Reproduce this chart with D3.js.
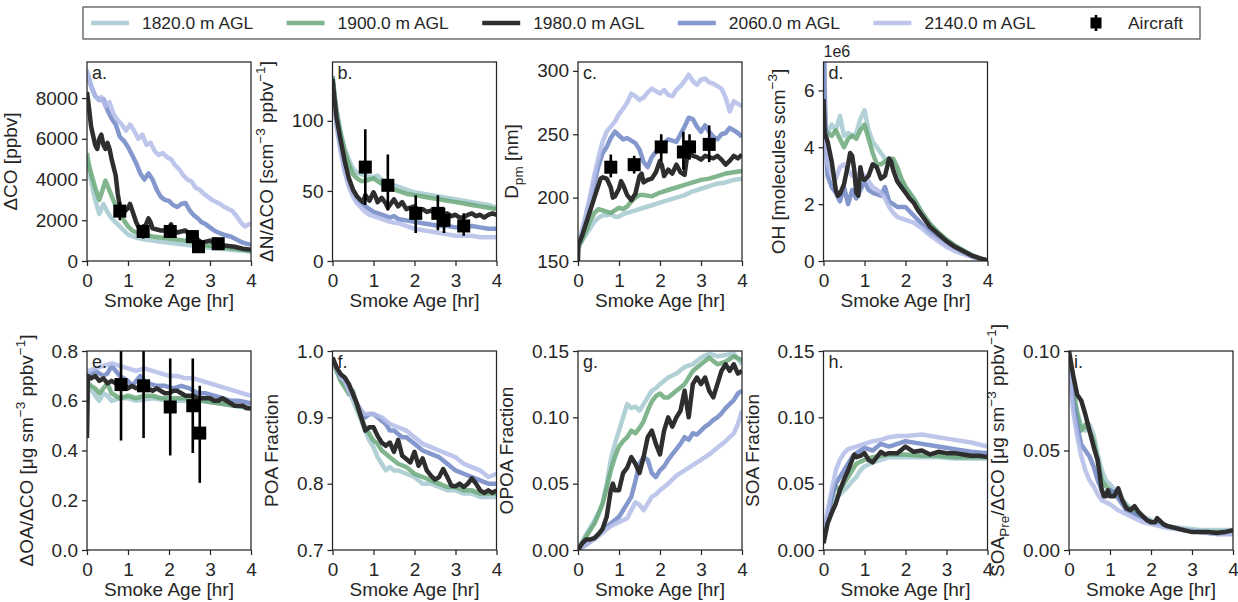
<!DOCTYPE html>
<html>
<head>
<meta charset="utf-8">
<script src="https://cdn.jsdelivr.net/npm/d3@7"></script>
<style>
  body { margin: 0; background: #fff; }
  svg { font-family: "Liberation Sans", Arial, Helvetica, sans-serif; }
</style>
</head>
<body>
<svg id="chart" width="1238" height="602"></svg>
<script>
"use strict";

// /////// DATA  (pairs are [smoke age hr, value])

const altitudes = ["1820.0 m AGL", "1900.0 m AGL", "1980.0 m AGL", "2060.0 m AGL", "2140.0 m AGL"];
const xTicks = [0, 1, 2, 3, 4];

// a. delta CO [ppbv]
const co1820 = [[0,5000],[0.1,3900],[0.2,3000],[0.3,2300],[0.4,2800],[0.5,2400],[0.6,2100],[0.7,1900],[0.8,1700],[0.9,1500],[1.0,1300],[1.2,1150],[1.4,1050],[1.6,1000],[1.8,950],[2.0,900],[2.2,850],[2.4,800],[2.6,750],[2.8,700],[3.0,650],[3.2,600],[3.4,580],[3.6,530],[3.8,500],[4.0,450]];
const co1900 = [[0,5300],[0.05,4700],[0.1,4300],[0.2,3600],[0.3,3000],[0.35,3300],[0.45,3950],[0.5,3700],[0.6,3200],[0.7,2700],[0.8,2300],[0.9,2000],[1.0,1700],[1.1,1500],[1.2,1400],[1.4,1300],[1.6,1200],[1.8,1150],[2.0,1100],[2.2,1050],[2.4,1000],[2.6,900],[2.8,800],[3.0,750],[3.2,700],[3.4,650],[3.6,600],[3.8,550],[4.0,500]];
const co1980 = [[0,8300],[0.05,7500],[0.1,6600],[0.2,5700],[0.25,5500],[0.3,6000],[0.35,6200],[0.4,5700],[0.45,5500],[0.5,5800],[0.55,5500],[0.6,5000],[0.7,4200],[0.75,3300],[0.8,2700],[0.9,2400],[1.0,2600],[1.05,2800],[1.1,2500],[1.2,1900],[1.3,1500],[1.4,1600],[1.5,2100],[1.55,1900],[1.6,1600],[1.8,1500],[1.9,1500],[2.0,1600],[2.05,1800],[2.1,1550],[2.2,1400],[2.3,1450],[2.4,1500],[2.5,1300],[2.6,1250],[2.7,1050],[2.8,900],[2.9,950],[3.0,1000],[3.2,800],[3.4,750],[3.6,700],[3.8,600],[4.0,550]];
const co2060 = [[0,9200],[0.1,8600],[0.2,8100],[0.3,7900],[0.4,7950],[0.5,7400],[0.6,7000],[0.7,6700],[0.8,6100],[0.9,5900],[1.0,5600],[1.1,5200],[1.2,4800],[1.3,4300],[1.4,4000],[1.5,4300],[1.6,4000],[1.7,3500],[1.8,3150],[1.9,3000],[2.0,2950],[2.1,2750],[2.2,2650],[2.3,2800],[2.4,2850],[2.5,2500],[2.6,2250],[2.7,2100],[2.8,1900],[2.9,1800],[3.0,1650],[3.1,1500],[3.2,1400],[3.4,1250],[3.5,1200],[3.6,1100],[3.8,900],[4.0,800]];
const co2140 = [[0,9400],[0.1,8600],[0.2,8100],[0.3,7900],[0.35,8050],[0.45,7600],[0.55,7800],[0.65,7200],[0.75,6900],[0.85,6700],[0.95,6400],[1.05,6700],[1.15,6400],[1.25,6000],[1.35,6200],[1.45,5700],[1.55,5800],[1.65,5400],[1.75,5200],[1.85,5300],[1.95,5100],[2.05,5000],[2.15,4700],[2.25,4500],[2.35,4200],[2.45,4000],[2.55,3900],[2.65,3600],[2.75,3500],[2.85,3300],[2.95,3150],[3.05,3000],[3.15,2900],[3.25,2800],[3.35,2650],[3.45,2550],[3.55,2450],[3.65,2200],[3.75,1900],[3.85,1700],[3.95,1800],[4.0,1850]];

// b. delta N / delta CO
const n1820 = [[0,132],[0.05,120],[0.1,108],[0.2,92],[0.3,80],[0.4,72],[0.5,66],[0.6,63],[0.7,62],[0.8,61],[0.9,60],[1.0,60],[1.1,61],[1.2,58],[1.3,57],[1.4,55],[1.6,53],[1.8,51],[2.0,49],[2.2,48],[2.4,47],[2.6,46],[2.8,45],[3.0,44],[3.2,43],[3.4,42],[3.6,41],[3.8,40],[4.0,38]];
const n1900 = [[0,132],[0.05,118],[0.1,106],[0.2,90],[0.3,78],[0.4,69],[0.5,62],[0.6,59],[0.7,57],[0.8,57],[0.9,58],[1.0,59],[1.1,57],[1.2,55],[1.3,53],[1.4,52],[1.6,50],[1.8,48],[2.0,47],[2.2,46],[2.4,45],[2.6,44],[2.8,43],[3.0,42],[3.2,41],[3.4,40],[3.6,39],[3.8,38],[4.0,37]];
const n1980 = [[0,130],[0.05,115],[0.1,102],[0.2,86],[0.3,71],[0.4,59],[0.5,51],[0.6,46],[0.7,43],[0.75,42],[0.8,47],[0.85,45],[0.9,43],[1.0,49],[1.05,46],[1.1,42],[1.2,45],[1.3,41],[1.35,38],[1.4,40],[1.5,44],[1.6,39],[1.7,42],[1.8,37],[1.9,38],[2.0,39],[2.1,36],[2.2,37],[2.3,35],[2.4,36],[2.5,34],[2.6,35],[2.7,33],[2.8,34],[2.9,32],[3.0,33],[3.1,31],[3.2,31],[3.3,33],[3.4,34],[3.5,32],[3.6,33],[3.7,31],[3.8,33],[3.9,34],[4.0,33]];
const n2060 = [[0,130],[0.05,113],[0.1,98],[0.2,80],[0.3,65],[0.4,55],[0.5,48],[0.6,44],[0.7,41],[0.8,39],[0.9,37],[1.0,35],[1.2,33],[1.4,31],[1.5,32],[1.6,30],[1.8,29],[2.0,28],[2.2,27],[2.4,26],[2.6,25],[2.8,25],[3.0,24],[3.2,24],[3.4,25],[3.6,24],[3.8,23],[4.0,23]];
const n2140 = [[0,130],[0.05,112],[0.1,96],[0.2,78],[0.3,63],[0.4,53],[0.5,46],[0.6,41],[0.7,38],[0.8,35],[0.9,33],[1.0,32],[1.2,30],[1.4,28],[1.6,27],[1.8,25],[2.0,23],[2.2,22],[2.4,21],[2.6,20],[2.8,19],[3.0,18],[3.2,18],[3.4,18],[3.6,17],[3.8,17],[4.0,17]];

// c. Dpm [nm]
const d1820 = [[0,160],[0.1,166],[0.2,171],[0.3,176],[0.4,181],[0.5,184],[0.6,186],[0.7,186],[0.8,187],[0.9,185],[1.0,185],[1.1,187],[1.2,188],[1.4,190],[1.6,192],[1.8,194],[2.0,196],[2.2,198],[2.4,200],[2.6,202],[2.8,205],[3.0,207],[3.2,209],[3.4,211],[3.6,212],[3.8,214],[4.0,215]];
const d1900 = [[0,160],[0.1,167],[0.2,174],[0.3,182],[0.4,188],[0.5,191],[0.6,190],[0.7,189],[0.8,188],[0.9,190],[1.0,192],[1.1,191],[1.2,193],[1.3,197],[1.4,200],[1.5,202],[1.6,202],[1.8,201],[2.0,204],[2.2,206],[2.4,208],[2.6,210],[2.8,212],[3.0,214],[3.2,215],[3.4,217],[3.6,219],[3.8,220],[4.0,221]];
const d1980 = [[0,150],[0.01,163],[0.1,170],[0.2,180],[0.3,190],[0.4,200],[0.5,210],[0.55,215],[0.6,216],[0.7,215],[0.8,208],[0.85,200],[0.9,201],[1.0,207],[1.05,213],[1.1,210],[1.2,202],[1.3,198],[1.4,203],[1.5,217],[1.55,219],[1.6,212],[1.7,214],[1.8,215],[1.9,220],[2.0,229],[2.05,225],[2.1,217],[2.2,222],[2.3,219],[2.4,226],[2.5,220],[2.6,218],[2.65,230],[2.7,236],[2.8,233],[2.9,232],[3.0,230],[3.1,233],[3.2,232],[3.3,231],[3.4,233],[3.5,230],[3.6,226],[3.7,229],[3.8,233],[3.9,231],[4.0,234]];
const d2060 = [[0,160],[0.1,172],[0.2,185],[0.3,198],[0.4,212],[0.5,225],[0.6,235],[0.7,240],[0.8,247],[0.9,252],[1.0,249],[1.1,246],[1.2,247],[1.3,245],[1.4,243],[1.5,238],[1.6,228],[1.7,224],[1.8,232],[1.9,236],[2.0,240],[2.1,243],[2.2,246],[2.3,245],[2.4,244],[2.5,250],[2.6,256],[2.7,263],[2.8,262],[2.9,256],[3.0,252],[3.1,257],[3.2,252],[3.3,248],[3.4,246],[3.5,250],[3.6,251],[3.7,255],[3.8,253],[3.9,251],[4.0,248]];
const d2140 = [[0,160],[0.1,174],[0.2,188],[0.3,202],[0.4,218],[0.5,232],[0.6,244],[0.7,252],[0.8,256],[0.9,260],[1.0,266],[1.1,270],[1.2,275],[1.3,282],[1.4,280],[1.5,277],[1.6,279],[1.7,283],[1.8,286],[1.9,284],[2.0,282],[2.1,285],[2.2,281],[2.3,280],[2.4,285],[2.5,288],[2.6,292],[2.7,297],[2.8,292],[2.9,289],[3.0,293],[3.1,294],[3.2,291],[3.3,290],[3.4,288],[3.5,286],[3.6,279],[3.7,268],[3.8,276],[3.9,274],[4.0,272]];

// d. OH [1e6 molecules scm-3]
const oh1820 = [[0,4.4],[0.1,4.5],[0.2,4.8],[0.3,4.6],[0.4,5.1],[0.5,4.4],[0.6,4.5],[0.7,4.4],[0.8,4.5],[0.9,5.0],[1.0,5.3],[1.1,4.6],[1.2,4.2],[1.3,4.0],[1.4,3.8],[1.5,3.6],[1.6,3.4],[1.7,3.4],[1.8,3.1],[1.9,2.8],[2.0,2.6],[2.2,2.2],[2.4,1.7],[2.6,1.3],[2.8,1.0],[3.0,0.75],[3.2,0.55],[3.4,0.38],[3.6,0.22],[3.8,0.1],[4.0,0.02]];
const oh1900 = [[0,4.7],[0.1,4.5],[0.2,4.4],[0.3,4.6],[0.4,4.3],[0.5,4.0],[0.6,4.3],[0.7,4.4],[0.8,4.3],[0.9,4.6],[1.0,4.8],[1.1,4.3],[1.2,3.8],[1.3,3.4],[1.4,3.4],[1.5,3.5],[1.6,3.6],[1.7,3.6],[1.8,3.3],[1.9,2.9],[2.0,2.6],[2.2,2.2],[2.4,1.7],[2.6,1.3],[2.8,1.0],[3.0,0.75],[3.2,0.55],[3.4,0.38],[3.6,0.22],[3.8,0.1],[4.0,0.02]];
const oh1980 = [[0,5.7],[0.03,4.5],[0.1,4.2],[0.2,3.5],[0.3,2.5],[0.35,2.3],[0.4,2.35],[0.5,2.7],[0.6,3.4],[0.65,3.8],[0.7,3.7],[0.75,3.2],[0.8,2.4],[0.85,2.3],[0.9,3.3],[0.95,2.9],[1.0,2.85],[1.1,3.0],[1.2,3.4],[1.3,3.3],[1.4,2.9],[1.5,3.0],[1.6,3.6],[1.65,3.5],[1.7,3.2],[1.8,2.8],[1.9,2.6],[2.0,2.4],[2.1,2.2],[2.2,2.05],[2.3,1.8],[2.4,1.6],[2.6,1.2],[2.8,0.95],[3.0,0.7],[3.2,0.5],[3.4,0.35],[3.6,0.2],[3.8,0.1],[4.0,0.02]];
const oh2060 = [[0,9.0],[0.03,6.0],[0.07,3.8],[0.1,3.0],[0.2,2.6],[0.3,2.4],[0.4,2.1],[0.5,2.6],[0.6,2.0],[0.7,2.5],[0.8,2.2],[0.9,2.5],[1.0,2.8],[1.1,2.5],[1.2,2.4],[1.3,2.35],[1.4,2.3],[1.5,2.6],[1.6,2.1],[1.7,2.0],[1.8,1.9],[1.9,1.9],[2.0,1.9],[2.1,1.75],[2.2,1.6],[2.4,1.3],[2.6,1.0],[2.8,0.8],[3.0,0.6],[3.2,0.45],[3.4,0.3],[3.6,0.18],[3.8,0.08],[4.0,0.02]];
const oh2140 = [[0,5.0],[0.05,4.0],[0.1,3.4],[0.2,3.0],[0.3,2.9],[0.4,3.3],[0.5,3.4],[0.6,3.2],[0.7,3.0],[0.8,3.0],[0.9,3.1],[1.0,3.0],[1.1,2.8],[1.2,2.6],[1.3,2.5],[1.4,2.4],[1.5,2.2],[1.6,1.9],[1.7,1.7],[1.8,1.55],[2.0,1.45],[2.2,1.35],[2.4,1.15],[2.6,0.9],[2.8,0.7],[3.0,0.5],[3.2,0.35],[3.4,0.25],[3.6,0.15],[3.8,0.07],[4.0,0.02]];

// e. delta OA / delta CO
const oa1820 = [[0,0.5],[0.03,0.66],[0.1,0.65],[0.2,0.62],[0.3,0.6],[0.4,0.63],[0.5,0.62],[0.6,0.6],[0.8,0.61],[1.0,0.61],[1.2,0.6],[1.6,0.61],[2.0,0.6],[2.4,0.6],[2.8,0.6],[3.2,0.59],[3.6,0.58],[4.0,0.57]];
const oa1900 = [[0,0.55],[0.03,0.67],[0.1,0.66],[0.2,0.65],[0.3,0.63],[0.4,0.65],[0.5,0.67],[0.6,0.63],[0.7,0.62],[0.8,0.61],[1.0,0.62],[1.2,0.61],[1.4,0.62],[1.6,0.62],[1.8,0.61],[2.0,0.61],[2.4,0.61],[2.8,0.6],[3.2,0.59],[3.6,0.58],[4.0,0.57]];
const oa1980 = [[0,0.45],[0.02,0.7],[0.1,0.69],[0.2,0.7],[0.3,0.68],[0.4,0.69],[0.5,0.67],[0.6,0.68],[0.7,0.67],[0.8,0.66],[0.9,0.67],[1.0,0.65],[1.1,0.66],[1.2,0.65],[1.3,0.66],[1.4,0.66],[1.5,0.65],[1.6,0.64],[1.7,0.65],[1.8,0.64],[1.9,0.63],[2.0,0.63],[2.1,0.64],[2.2,0.64],[2.3,0.63],[2.4,0.62],[2.5,0.62],[2.6,0.62],[2.7,0.61],[2.8,0.61],[2.9,0.61],[3.0,0.61],[3.1,0.6],[3.2,0.6],[3.3,0.61],[3.4,0.6],[3.5,0.59],[3.6,0.58],[3.7,0.58],[3.8,0.58],[3.9,0.57],[4.0,0.57]];
const oa2060 = [[0,0.6],[0.03,0.71],[0.1,0.71],[0.2,0.72],[0.3,0.71],[0.4,0.7],[0.5,0.71],[0.6,0.74],[0.7,0.72],[0.8,0.7],[0.9,0.69],[1.0,0.68],[1.1,0.66],[1.2,0.68],[1.3,0.7],[1.4,0.68],[1.5,0.67],[1.7,0.66],[1.9,0.66],[2.1,0.65],[2.3,0.66],[2.5,0.65],[2.7,0.63],[2.9,0.63],[3.1,0.62],[3.3,0.61],[3.5,0.6],[3.7,0.6],[4.0,0.59]];
const oa2140 = [[0,0.6],[0.03,0.72],[0.2,0.73],[0.4,0.74],[0.6,0.75],[0.8,0.74],[1.0,0.73],[1.2,0.72],[1.4,0.73],[1.6,0.72],[1.8,0.71],[2.0,0.7],[2.2,0.7],[2.4,0.69],[2.6,0.69],[2.8,0.68],[3.0,0.67],[3.2,0.66],[3.4,0.65],[3.6,0.64],[3.8,0.63],[4.0,0.62]];

// f. POA fraction
const poa1820 = [[0,0.99],[0.1,0.97],[0.2,0.955],[0.3,0.95],[0.4,0.94],[0.5,0.925],[0.6,0.91],[0.7,0.895],[0.8,0.88],[0.9,0.865],[1.0,0.855],[1.1,0.84],[1.2,0.83],[1.3,0.82],[1.4,0.825],[1.5,0.82],[1.6,0.82],[1.8,0.815],[2.0,0.81],[2.2,0.8],[2.4,0.8],[2.6,0.795],[2.8,0.79],[3.0,0.79],[3.2,0.785],[3.4,0.785],[3.6,0.78],[3.8,0.78],[4.0,0.78]];
const poa1900 = [[0,0.99],[0.1,0.97],[0.2,0.955],[0.3,0.945],[0.4,0.935],[0.5,0.94],[0.6,0.915],[0.7,0.9],[0.8,0.885],[0.9,0.875],[1.0,0.865],[1.1,0.86],[1.2,0.85],[1.3,0.845],[1.4,0.84],[1.6,0.83],[1.8,0.825],[2.0,0.815],[2.2,0.81],[2.4,0.805],[2.6,0.8],[2.8,0.795],[3.0,0.795],[3.2,0.79],[3.4,0.79],[3.6,0.785],[3.8,0.785],[4.0,0.785]];
const poa1980 = [[0,0.99],[0.1,0.975],[0.2,0.965],[0.3,0.96],[0.4,0.95],[0.5,0.935],[0.6,0.92],[0.7,0.9],[0.8,0.88],[0.9,0.885],[1.0,0.885],[1.1,0.872],[1.2,0.862],[1.3,0.857],[1.4,0.862],[1.5,0.848],[1.6,0.866],[1.7,0.842],[1.8,0.837],[1.9,0.832],[2.0,0.848],[2.1,0.827],[2.2,0.838],[2.3,0.82],[2.4,0.812],[2.5,0.806],[2.6,0.81],[2.7,0.822],[2.8,0.81],[2.9,0.797],[3.0,0.796],[3.1,0.8],[3.2,0.795],[3.3,0.8],[3.4,0.808],[3.5,0.8],[3.6,0.79],[3.7,0.786],[3.8,0.79],[3.9,0.786],[4.0,0.79]];
const poa2060 = [[0,0.99],[0.1,0.975],[0.2,0.96],[0.3,0.955],[0.4,0.945],[0.5,0.935],[0.6,0.92],[0.7,0.91],[0.8,0.9],[0.9,0.905],[1.0,0.905],[1.1,0.9],[1.2,0.895],[1.3,0.89],[1.4,0.88],[1.5,0.88],[1.6,0.875],[1.7,0.87],[1.8,0.87],[1.9,0.865],[2.0,0.86],[2.2,0.85],[2.4,0.845],[2.6,0.84],[2.8,0.83],[3.0,0.82],[3.2,0.815],[3.4,0.81],[3.6,0.805],[3.8,0.8],[4.0,0.8]];
const poa2140 = [[0,0.99],[0.1,0.975],[0.2,0.96],[0.3,0.955],[0.4,0.94],[0.5,0.93],[0.6,0.92],[0.7,0.91],[0.8,0.905],[0.9,0.905],[1.0,0.905],[1.2,0.9],[1.4,0.89],[1.6,0.885],[1.8,0.88],[2.0,0.87],[2.2,0.86],[2.4,0.855],[2.6,0.85],[2.8,0.845],[3.0,0.84],[3.2,0.83],[3.4,0.825],[3.6,0.82],[3.8,0.81],[4.0,0.815]];

// g. OPOA fraction
const opoa1820 = [[0,0],[0.1,0.006],[0.2,0.012],[0.3,0.017],[0.4,0.022],[0.5,0.028],[0.6,0.035],[0.7,0.05],[0.8,0.068],[0.9,0.08],[1.0,0.09],[1.1,0.1],[1.2,0.11],[1.3,0.107],[1.4,0.108],[1.5,0.105],[1.6,0.11],[1.7,0.115],[1.8,0.12],[1.9,0.122],[2.0,0.125],[2.2,0.13],[2.4,0.133],[2.6,0.138],[2.8,0.14],[3.0,0.145],[3.2,0.148],[3.4,0.146],[3.6,0.147],[3.8,0.148],[4.0,0.14]];
const opoa1900 = [[0,0],[0.1,0.005],[0.2,0.01],[0.3,0.015],[0.4,0.02],[0.5,0.027],[0.6,0.035],[0.7,0.047],[0.8,0.06],[0.9,0.07],[1.0,0.078],[1.1,0.082],[1.2,0.085],[1.3,0.09],[1.4,0.088],[1.5,0.092],[1.6,0.097],[1.7,0.105],[1.8,0.112],[1.9,0.116],[2.0,0.118],[2.1,0.115],[2.2,0.115],[2.4,0.12],[2.6,0.125],[2.8,0.135],[3.0,0.14],[3.2,0.145],[3.4,0.14],[3.6,0.142],[3.8,0.146],[4.0,0.143]];
const opoa1980 = [[0,0],[0.1,0.005],[0.2,0.008],[0.3,0.008],[0.4,0.009],[0.5,0.012],[0.6,0.016],[0.7,0.025],[0.8,0.045],[0.85,0.05],[0.9,0.045],[1.0,0.045],[1.1,0.058],[1.2,0.062],[1.3,0.07],[1.4,0.065],[1.5,0.058],[1.6,0.07],[1.7,0.085],[1.8,0.09],[1.9,0.08],[2.0,0.072],[2.1,0.09],[2.2,0.1],[2.3,0.093],[2.4,0.1],[2.5,0.105],[2.6,0.12],[2.7,0.1],[2.8,0.125],[2.9,0.13],[3.0,0.125],[3.1,0.13],[3.2,0.12],[3.3,0.115],[3.4,0.125],[3.5,0.135],[3.6,0.14],[3.7,0.135],[3.8,0.14],[3.9,0.133],[4.0,0.135]];
const opoa2060 = [[0,0],[0.2,0.004],[0.4,0.009],[0.6,0.015],[0.8,0.02],[1.0,0.025],[1.1,0.03],[1.2,0.035],[1.3,0.04],[1.4,0.052],[1.5,0.065],[1.6,0.07],[1.7,0.068],[1.8,0.058],[1.9,0.055],[2.0,0.06],[2.1,0.063],[2.2,0.068],[2.3,0.072],[2.4,0.076],[2.5,0.08],[2.6,0.085],[2.7,0.083],[2.8,0.088],[2.9,0.087],[3.0,0.09],[3.1,0.093],[3.2,0.095],[3.3,0.098],[3.4,0.1],[3.5,0.103],[3.6,0.107],[3.7,0.11],[3.8,0.113],[3.9,0.118],[4.0,0.12]];
const opoa2140 = [[0,0],[0.2,0.004],[0.4,0.008],[0.6,0.013],[0.8,0.018],[1.0,0.021],[1.2,0.024],[1.3,0.03],[1.4,0.036],[1.5,0.034],[1.6,0.03],[1.7,0.035],[1.8,0.04],[1.9,0.042],[2.0,0.045],[2.2,0.05],[2.4,0.056],[2.6,0.06],[2.8,0.064],[3.0,0.068],[3.2,0.072],[3.4,0.077],[3.6,0.082],[3.8,0.088],[3.9,0.095],[4.0,0.105]];

// h. SOA fraction
const soa1820 = [[0,0.01],[0.1,0.022],[0.2,0.035],[0.3,0.04],[0.4,0.042],[0.5,0.045],[0.6,0.048],[0.7,0.052],[0.8,0.055],[0.9,0.06],[1.0,0.063],[1.2,0.066],[1.4,0.068],[1.6,0.07],[2.0,0.07],[2.4,0.07],[2.8,0.07],[3.2,0.069],[3.6,0.069],[4.0,0.069]];
const soa1900 = [[0,0.01],[0.1,0.025],[0.2,0.04],[0.3,0.048],[0.4,0.045],[0.5,0.05],[0.6,0.055],[0.7,0.06],[0.8,0.065],[1.0,0.068],[1.2,0.07],[1.4,0.071],[1.6,0.072],[2.0,0.072],[2.4,0.071],[2.8,0.071],[3.2,0.07],[3.6,0.07],[4.0,0.07]];
const soa1980 = [[0,0.005],[0.1,0.02],[0.2,0.028],[0.3,0.035],[0.4,0.045],[0.5,0.053],[0.6,0.06],[0.7,0.068],[0.75,0.072],[0.8,0.07],[0.9,0.071],[1.0,0.073],[1.1,0.068],[1.2,0.066],[1.3,0.07],[1.4,0.074],[1.5,0.072],[1.6,0.073],[1.8,0.073],[2.0,0.078],[2.2,0.074],[2.4,0.075],[2.6,0.072],[2.8,0.074],[3.0,0.073],[3.2,0.073],[3.4,0.072],[3.6,0.071],[3.8,0.071],[4.0,0.07]];
const soa2060 = [[0,0.01],[0.1,0.025],[0.2,0.04],[0.3,0.05],[0.4,0.055],[0.5,0.06],[0.6,0.065],[0.7,0.07],[0.8,0.073],[1.0,0.077],[1.2,0.075],[1.4,0.08],[1.6,0.078],[1.8,0.08],[2.0,0.082],[2.4,0.08],[2.8,0.078],[3.2,0.076],[3.6,0.074],[4.0,0.073]];
const soa2140 = [[0,0.01],[0.1,0.03],[0.2,0.045],[0.3,0.06],[0.4,0.068],[0.5,0.073],[0.6,0.076],[0.8,0.078],[1.0,0.08],[1.2,0.082],[1.4,0.083],[1.6,0.085],[1.8,0.086],[2.0,0.086],[2.4,0.087],[2.8,0.085],[3.2,0.083],[3.6,0.081],[4.0,0.078]];

// i. SOA precursors / delta CO
const pre1820 = [[0,0.09],[0.1,0.08],[0.2,0.07],[0.3,0.062],[0.4,0.06],[0.5,0.063],[0.6,0.058],[0.7,0.048],[0.8,0.04],[0.9,0.035],[1.0,0.033],[1.2,0.028],[1.4,0.023],[1.6,0.019],[1.8,0.017],[2.0,0.015],[2.4,0.012],[2.8,0.011],[3.2,0.01],[3.6,0.01],[4.0,0.01]];
const pre1900 = [[0,0.095],[0.1,0.08],[0.2,0.068],[0.3,0.06],[0.4,0.063],[0.5,0.06],[0.6,0.055],[0.7,0.045],[0.8,0.035],[0.9,0.032],[1.0,0.03],[1.2,0.027],[1.4,0.022],[1.6,0.019],[1.8,0.016],[2.0,0.014],[2.4,0.012],[2.8,0.01],[3.2,0.009],[3.6,0.009],[4.0,0.009]];
const pre1980 = [[0,0.1],[0.1,0.088],[0.2,0.078],[0.3,0.075],[0.4,0.068],[0.5,0.06],[0.6,0.052],[0.7,0.045],[0.8,0.03],[0.85,0.027],[0.9,0.027],[0.95,0.03],[1.0,0.027],[1.1,0.027],[1.2,0.031],[1.3,0.025],[1.4,0.021],[1.5,0.02],[1.6,0.022],[1.7,0.019],[1.8,0.017],[1.9,0.015],[2.0,0.014],[2.1,0.014],[2.15,0.016],[2.2,0.015],[2.3,0.013],[2.4,0.012],[2.6,0.011],[2.8,0.01],[3.0,0.009],[3.2,0.009],[3.4,0.009],[3.6,0.0085],[3.8,0.009],[4.0,0.01]];
const pre2060 = [[0,0.09],[0.1,0.075],[0.2,0.062],[0.3,0.053],[0.4,0.05],[0.5,0.047],[0.6,0.042],[0.7,0.035],[0.8,0.03],[0.9,0.028],[1.0,0.03],[1.1,0.029],[1.2,0.026],[1.4,0.02],[1.6,0.018],[1.8,0.016],[2.0,0.014],[2.4,0.012],[2.8,0.01],[3.2,0.009],[3.6,0.008],[4.0,0.008]];
const pre2140 = [[0,0.09],[0.1,0.07],[0.2,0.057],[0.3,0.047],[0.4,0.04],[0.5,0.035],[0.6,0.032],[0.7,0.028],[0.8,0.025],[1.0,0.023],[1.2,0.02],[1.4,0.018],[1.6,0.016],[1.8,0.014],[2.0,0.013],[2.4,0.011],[2.8,0.01],[3.2,0.009],[3.6,0.008],[4.0,0.008]];

// Aircraft observations: [age, value, low, high]
const acCO  = [[0.8,2450,2000,2900],[1.37,1450,1100,1800],[2.03,1450,1200,1800],[2.57,1200,900,1500],[2.72,700,500,900],[3.2,850,700,1000]];
const acN   = [[0.8,67,40,94],[1.35,54,36,76],[2.03,34,20,47],[2.57,34,22,47],[2.72,29,20,38],[3.2,25,18,34]];
const acDpm = [[0.8,224,216,234],[1.37,226,219,233],[2.03,240,229,250],[2.57,236,222,252],[2.72,240,230,250],[3.2,242,228,257]];
const acOA  = [[0.83,0.665,0.44,0.9],[1.38,0.66,0.45,0.87],[2.03,0.575,0.38,0.77],[2.58,0.58,0.39,0.77],[2.75,0.47,0.27,0.66]];

// /////// STYLE

const colors = ["#a3c9cf", "#6aa879", "#2e2e2e", "#6e86c6", "#b3bce8"];
const opac = [0.85, 0.85, 1, 0.85, 0.85];
const ink = "#262626";
const FS = 19;
const LW = 4.5;

const PW = 164, PH = 199;
const colX = (c) => 87 + c * 245.5;
const rowY = (r) => (r === 0 ? 62 : 351);

const sup = (s) => ({ s, shift: -8, small: true });
const sub = (s) => ({ s, shift: 5, small: true });

const panels = [
  { key: "a.", col: 0, row: 0, dom: [0, 9770], ticks: [0, 2000, 4000, 6000, 8000], fmt: d3.format("d"),
    series: [co1820, co1900, co1980, co2060, co2140], air: acCO,
    label: [{ s: "ΔCO [ppbv]" }] },
  { key: "b.", col: 1, row: 0, dom: [0, 142], ticks: [0, 50, 100], fmt: d3.format("d"),
    series: [n1820, n1900, n1980, n2060, n2140], air: acN,
    label: [{ s: "ΔN/ΔCO [scm" }, sup("−3"), { s: " ppbv" }, sup("−1"), { s: "]" }] },
  { key: "c.", col: 2, row: 0, dom: [150, 307], ticks: [150, 200, 250, 300], fmt: d3.format("d"),
    series: [d1820, d1900, d1980, d2060, d2140], air: acDpm,
    label: [{ s: "D" }, sub("pm"), { s: " [nm]" }] },
  { key: "d.", col: 3, row: 0, dom: [0, 7], ticks: [0, 2, 4, 6], fmt: d3.format("d"),
    series: [oh1820, oh1900, oh1980, oh2060, oh2140], offset: "1e6",
    label: [{ s: "OH [molecules scm" }, sup("−3"), { s: "]" }] },
  { key: "e.", col: 0, row: 1, dom: [0, 0.8], ticks: [0, 0.2, 0.4, 0.6, 0.8], fmt: d3.format(".1f"),
    series: [oa1820, oa1900, oa1980, oa2060, oa2140], air: acOA,
    label: [{ s: "ΔOA/ΔCO [μg sm" }, sup("−3"), { s: " ppbv" }, sup("−1"), { s: "]" }] },
  { key: "f.", col: 1, row: 1, dom: [0.7, 1.0], ticks: [0.7, 0.8, 0.9, 1.0], fmt: d3.format(".1f"),
    series: [poa1820, poa1900, poa1980, poa2060, poa2140],
    label: [{ s: "POA Fraction" }] },
  { key: "g.", col: 2, row: 1, dom: [0, 0.15], ticks: [0, 0.05, 0.1, 0.15], fmt: d3.format(".2f"),
    series: [opoa1820, opoa1900, opoa1980, opoa2060, opoa2140],
    label: [{ s: "OPOA Fraction" }] },
  { key: "h.", col: 3, row: 1, dom: [0, 0.15], ticks: [0, 0.05, 0.1, 0.15], fmt: d3.format(".2f"),
    series: [soa1820, soa1900, soa1980, soa2060, soa2140],
    label: [{ s: "SOA Fraction" }] },
  { key: "i.", col: 4, row: 1, dom: [0, 0.1], ticks: [0, 0.05, 0.1], fmt: d3.format(".2f"),
    series: [pre1820, pre1900, pre1980, pre2060, pre2140],
    label: [{ s: "SOA" }, sub("Pre"), { s: "/ΔCO [μg sm" }, sup("−3"), { s: " ppbv" }, sup("−1"), { s: "]" }] },
];

// /////// DRAW

const svg = d3.select("#chart");
svg.append("rect").attr("width", 1238).attr("height", 602).attr("fill", "#fff");

// Rotated y label with super/subscripts built from tspans
function rotatedLabel(g, segs, x, y) {
  const t = g.append("text")
    .attr("transform", `translate(${x},${y}) rotate(-90)`)
    .attr("text-anchor", "middle")
    .attr("fill", ink)
    .style("font-size", `${FS}px`);
  let cur = 0;
  segs.forEach((seg) => {
    const target = seg.shift || 0;
    t.append("tspan")
      .attr("dy", target - cur)
      .style("font-size", seg.small ? "13.5px" : `${FS}px`)
      .text(seg.s);
    cur = target;
  });
}

function errorMarks(g, data, x, y) {
  const m = g.selectAll(".air").data(data).join("g").attr("class", "air");
  m.append("line")
    .attr("x1", (d) => x(d[0])).attr("x2", (d) => x(d[0]))
    .attr("y1", (d) => y(d[2])).attr("y2", (d) => y(d[3]))
    .attr("stroke", "#000").attr("stroke-width", 2.6);
  m.append("rect")
    .attr("x", (d) => x(d[0]) - 6.5).attr("y", (d) => y(d[1]) - 6.5)
    .attr("width", 13).attr("height", 13)
    .attr("fill", "#000");
}

panels.forEach((p, i) => {
  const left = colX(p.col), top = rowY(p.row);
  const g = svg.append("g").attr("transform", `translate(${left},${top})`);

  const x = d3.scaleLinear().domain([0, 4]).range([0, PW]);
  const y = d3.scaleLinear().domain(p.dom).range([PH, 0]);

  svg.append("clipPath").attr("id", `clip${i}`)
    .append("rect").attr("width", PW).attr("height", PH);

  const plot = g.append("g").attr("clip-path", `url(#clip${i})`);
  const line = d3.line().x((d) => x(d[0])).y((d) => y(d[1]));

  // colored altitudes first, black 1980 on top
  [0, 1, 3, 4, 2].forEach((k) => {
    plot.append("path")
      .datum(p.series[k])
      .attr("d", line)
      .attr("fill", "none")
      .attr("stroke", colors[k])
      .attr("stroke-opacity", opac[k])
      .attr("stroke-width", LW)
      .attr("stroke-linejoin", "round")
      .attr("stroke-linecap", "butt");
  });

  if (p.air) errorMarks(plot, p.air, x, y);

  // axes
  const yAxis = g.append("g")
    .call(d3.axisLeft(y).tickValues(p.ticks).tickFormat(p.fmt).tickSize(5).tickPadding(4));
  const xAxis = g.append("g")
    .attr("transform", `translate(0,${PH})`)
    .call(d3.axisBottom(x).tickValues(xTicks).tickFormat(d3.format("d")).tickSize(5).tickPadding(8));

  [yAxis, xAxis].forEach((a) => {
    a.select(".domain").remove();
    a.selectAll("line").attr("stroke", ink).attr("stroke-width", 1.25);
    a.selectAll("text").attr("fill", ink).style("font-size", `${FS}px`).attr("font-family", null);
  });

  // frame
  g.append("rect")
    .attr("width", PW).attr("height", PH)
    .attr("fill", "none").attr("stroke", ink).attr("stroke-width", 1.25);

  // panel letter
  g.append("text").attr("x", 5).attr("y", 17)
    .attr("fill", ink).style("font-size", "18px").text(p.key);

  // offset text
  if (p.offset) {
    g.append("text").attr("x", 0).attr("y", -5)
      .attr("fill", ink).style("font-size", "16px").text(p.offset);
  }

  // x label
  g.append("text")
    .attr("x", PW / 2).attr("y", PH + 46)
    .attr("text-anchor", "middle").attr("fill", ink)
    .style("font-size", `${FS}px`)
    .text("Smoke Age [hr]");

  // y label placed left of tick labels
  let minX = 0;
  yAxis.selectAll("text").each(function () {
    const b = this.getBBox();
    minX = Math.min(minX, b.x - 9);
  });
  rotatedLabel(g, p.label, minX - 10, PH / 2);
});

// /////// LEGEND

const leg = svg.append("g");
leg.append("rect")
  .attr("x", 83).attr("y", 7).attr("width", 1117).attr("height", 32)
  .attr("fill", "#fff").attr("stroke", "#5a5a5a").attr("stroke-width", 1.3);

const legItem = leg.selectAll(".item").data(altitudes).join("g")
  .attr("class", "item")
  .attr("transform", (d, k) => `translate(${91 + k * 195.6},23)`);
legItem.append("line")
  .attr("x1", 0).attr("x2", 38)
  .attr("stroke", (d, k) => colors[k])
  .attr("stroke-opacity", (d, k) => opac[k])
  .attr("stroke-width", LW);
legItem.append("text")
  .attr("x", 51).attr("y", 6)
  .attr("fill", ink).style("font-size", "17.4px")
  .text((d) => d);

const airLeg = leg.append("g").attr("transform", "translate(1096,23)");
airLeg.append("line").attr("y1", -8).attr("y2", 8).attr("stroke", "#000").attr("stroke-width", 2.6);
airLeg.append("rect").attr("x", -5.5).attr("y", -5.5).attr("width", 11).attr("height", 11).attr("fill", "#000");
airLeg.append("text").attr("x", 32).attr("y", 6)
  .attr("fill", ink).style("font-size", "17.4px").text("Aircraft");
</script>
</body>
</html>
